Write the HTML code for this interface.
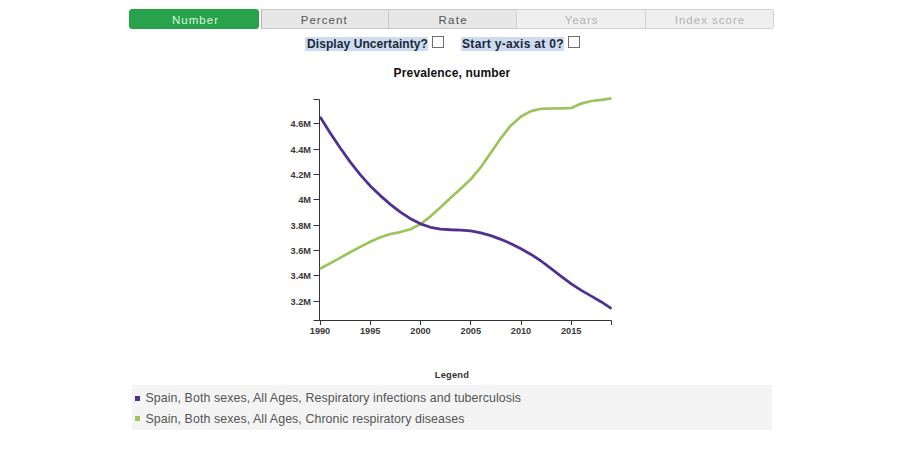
<!DOCTYPE html>
<html><head><meta charset="utf-8"><style>
*{box-sizing:border-box}
html,body{margin:0;padding:0;background:#fff;width:900px;height:451px;overflow:hidden;font-family:"Liberation Sans",sans-serif}
.tabs{position:absolute;left:129px;top:9px;width:645px;height:20px}
.tab{position:absolute;top:0;height:20px;font-size:11.5px;line-height:21px;text-align:center;border:1px solid #c9c9c9;background:#e7e7e7;color:#555}
.tab.on{background:#28a24b;border-color:#27a04a;color:#d9f7df;border-radius:3px}
.tab.dis{background:#efefef;color:#b3b3b3;border-color:#d2d2d2}
.opt{position:absolute;top:37px;height:13.5px;background:#cddcee;color:#1b2838;font-weight:bold;font-size:12px;line-height:14px;white-space:nowrap}
.cb{position:absolute;top:36px;width:12px;height:12px;border:1px solid #6e6e6e;background:#fff}
svg{position:absolute;left:0;top:0}
.ax text{font-size:9.2px;font-weight:bold;fill:#3a3a3a;font-family:"Liberation Sans",sans-serif}
.ax line,.ax path{stroke:#333;stroke-width:1;fill:none}
.legbox{position:absolute;left:132px;top:385px;width:640px;height:45px;background:#f4f4f4}
.li{position:absolute;left:13.5px;font-size:12.4px;color:#555;white-space:nowrap;letter-spacing:0.075px}
.sq{position:absolute;left:3px;width:5px;height:5px}
</style></head><body>
<div class="tabs">
<div class="tab on" style="left:0;width:130px;letter-spacing:1.05px;padding-left:3px">Number</div>
<div class="tab" style="left:132px;width:128px;border-left-color:#b5b5b5;letter-spacing:1.08px;padding-right:1.5px">Percent</div>
<div class="tab" style="left:259px;width:129px;letter-spacing:1.3px;padding-left:1.3px">Rate</div>
<div class="tab dis" style="left:387px;width:130px;letter-spacing:0.95px;padding-left:1px">Years</div>
<div class="tab dis" style="left:516px;width:129px;border-radius:0 3px 3px 0;letter-spacing:1.0px;padding-left:1px">Index score</div>
</div>
<div class="opt" style="left:305px;width:123px;padding-left:2px;letter-spacing:0.08px">Display Uncertainty?</div>
<div class="cb" style="left:432px"></div>
<div class="opt" style="left:461px;width:102.5px;padding-left:1px;letter-spacing:0.33px">Start y-axis at 0?</div>
<div class="cb" style="left:568px"></div>
<svg width="900" height="451" viewBox="0 0 900 451">
<text x="452" y="77" text-anchor="middle" style="font-size:12px;font-weight:bold;fill:#111;letter-spacing:0.15px;font-family:'Liberation Sans',sans-serif">Prevalence, number</text>
<g class="ax">
<path d="M313.5,99.5H319.5V320.5H611.5V325"/>
<line x1="313.5" y1="320.5" x2="320" y2="320.5"/>
<line x1="313.5" y1="123.5" x2="320" y2="123.5"/><text x="311" y="126.7" text-anchor="end">4.6M</text><line x1="313.5" y1="149.5" x2="320" y2="149.5"/><text x="311" y="152.7" text-anchor="end">4.4M</text><line x1="313.5" y1="174.5" x2="320" y2="174.5"/><text x="311" y="177.7" text-anchor="end">4.2M</text><line x1="313.5" y1="199.5" x2="320" y2="199.5"/><text x="311" y="202.7" text-anchor="end">4M</text><line x1="313.5" y1="225.5" x2="320" y2="225.5"/><text x="311" y="228.7" text-anchor="end">3.8M</text><line x1="313.5" y1="250.5" x2="320" y2="250.5"/><text x="311" y="253.7" text-anchor="end">3.6M</text><line x1="313.5" y1="275.5" x2="320" y2="275.5"/><text x="311" y="278.7" text-anchor="end">3.4M</text><line x1="313.5" y1="301.5" x2="320" y2="301.5"/><text x="311" y="304.7" text-anchor="end">3.2M</text><line x1="320.5" y1="320" x2="320.5" y2="325"/><text x="320.0" y="334" text-anchor="middle">1990</text><line x1="370.5" y1="320" x2="370.5" y2="325"/><text x="370.2" y="334" text-anchor="middle">1995</text><line x1="420.5" y1="320" x2="420.5" y2="325"/><text x="420.5" y="334" text-anchor="middle">2000</text><line x1="470.5" y1="320" x2="470.5" y2="325"/><text x="470.8" y="334" text-anchor="middle">2005</text><line x1="521.5" y1="320" x2="521.5" y2="325"/><text x="521.0" y="334" text-anchor="middle">2010</text><line x1="571.5" y1="320" x2="571.5" y2="325"/><text x="571.2" y="334" text-anchor="middle">2015</text>
</g>
<path d="M320.00,268.74L330.05,263.35L340.10,257.82L350.15,252.29L360.20,246.91L370.25,241.82L380.30,237.29L390.35,234.01L400.40,232.06L410.45,229.23L420.50,224.01L430.55,216.34L440.60,207.22L450.65,197.69L460.70,188.67L470.75,179.27L480.80,167.17L490.85,152.67L500.90,138.06L510.95,125.46L521.00,116.44L531.05,111.09L541.10,108.80L551.15,108.50L561.20,108.30L571.25,108.00L581.30,103.60L591.35,101.00L601.40,99.80L611.45,98.30" fill="none" stroke="#9dc45c" stroke-width="2.7" stroke-linejoin="round"/>
<path d="M320.00,116.74L330.05,132.67L340.10,147.79L350.15,161.86L360.20,174.64L370.25,185.90L380.30,195.61L390.35,204.33L400.40,212.08L410.45,218.65L420.50,223.81L430.55,227.30L440.60,229.08L450.65,229.77L460.70,230.14L470.75,230.96L480.80,232.80L490.85,235.63L500.90,239.33L510.95,243.74L521.00,248.74L531.05,254.42L541.10,261.00L551.15,268.51L561.20,276.36L571.25,283.86L581.30,290.39L591.35,296.14L601.40,301.96L611.45,308.67" fill="none" stroke="#50318f" stroke-width="2.8" stroke-linejoin="round"/>
<text x="452" y="378" text-anchor="middle" style="font-size:9.3px;font-weight:bold;fill:#333;letter-spacing:0.2px;font-family:'Liberation Sans',sans-serif">Legend</text>
</svg>
<div class="legbox">
<div class="sq" style="top:11px;background:#4e2f92"></div><div class="li" style="top:6px">Spain, Both sexes, All Ages, Respiratory infections and tuberculosis</div>
<div class="sq" style="top:31px;background:#9dc55a"></div><div class="li" style="top:27px">Spain, Both sexes, All Ages, Chronic respiratory diseases</div>
</div>
</body></html>
